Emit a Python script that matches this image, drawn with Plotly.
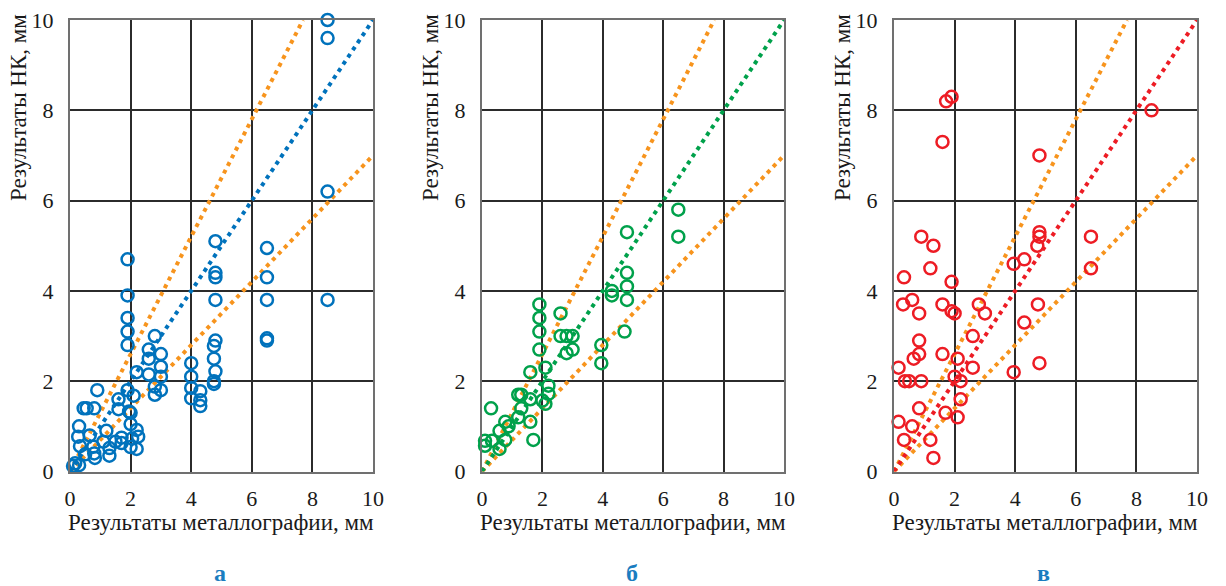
import plotly.graph_objects as go

# ---------- data ----------
a_x = [8.5, 8.5, 8.5, 8.5,
       6.5, 6.5, 6.5, 6.5, 6.5,
       4.8, 4.8, 4.8, 4.8, 4.8, 4.75, 4.75, 4.8, 4.75, 4.75,
       4.0, 4.0, 4.0, 4.0, 4.3, 4.3, 4.3,
       1.9, 1.9, 1.9, 1.9, 1.9,
       2.8, 2.6, 3.0, 2.6, 3.0, 2.6, 3.0, 2.8, 3.0, 2.8, 2.2,
       0.9, 1.9, 2.1, 1.6, 0.45, 0.55, 0.8, 1.6, 1.95, 2.0,
       2.0, 2.2, 0.3, 1.2, 0.65, 0.27, 1.7, 2.05, 2.25, 1.1, 1.5, 1.7,
       0.33, 0.77, 1.3, 2.0, 2.2, 0.5, 0.8, 1.3, 0.82, 0.17, 0.1, 0.3]
a_y = [10.0, 9.6, 6.2, 3.8,
       4.95, 4.3, 3.8, 2.95, 2.9,
       5.1, 4.4, 4.3, 3.8, 2.9, 2.78, 2.5, 2.22, 2.0, 1.94,
       2.4, 2.1, 1.85, 1.62, 1.78, 1.58, 1.45,
       4.7, 3.9, 3.4, 3.1, 2.8,
       3.0, 2.7, 2.6, 2.5, 2.32, 2.15, 2.1, 1.88, 1.8, 1.7, 2.2,
       1.8, 1.8, 1.68, 1.6, 1.4, 1.4, 1.4, 1.38, 1.33, 1.3,
       1.05, 0.92, 1.0, 0.9, 0.8, 0.77, 0.75, 0.73, 0.77, 0.66, 0.66, 0.63,
       0.56, 0.55, 0.52, 0.54, 0.5, 0.38, 0.4, 0.35, 0.3, 0.18, 0.12, 0.14]

b_x = [6.5, 6.5, 4.8, 4.8, 4.8, 4.8, 4.72, 4.3, 4.3, 3.95, 3.95,
       1.9, 1.9, 1.9, 1.9, 2.6, 2.6, 2.8, 3.0, 3.0, 2.8,
       2.1, 1.6, 2.2, 2.2, 1.2, 1.3, 1.6, 2.0, 2.1, 1.3,
       0.3, 1.2, 1.6, 0.77, 0.88, 0.58, 0.77, 0.1, 0.33, 0.1, 0.58, 1.7]
b_y = [5.8, 5.2, 5.3, 4.4, 4.1, 3.8, 3.1, 4.0, 3.9, 2.8, 2.4,
       3.7, 3.4, 3.1, 2.7, 3.5, 3.0, 3.0, 3.0, 2.7, 2.62,
       2.3, 2.2, 1.9, 1.72, 1.7, 1.7, 1.6, 1.57, 1.5, 1.4,
       1.4, 1.2, 1.1, 1.1, 1.0, 0.9, 0.7, 0.68, 0.68, 0.57, 0.5, 0.7]

c_x = [1.72, 1.9, 1.6, 4.8, 8.5, 4.8, 4.8, 4.73, 6.5, 6.5, 0.9,
       4.3, 3.95, 4.75, 4.3, 4.8, 3.95,
       1.3, 1.2, 0.33, 1.9, 0.3, 0.6, 0.83, 1.6, 1.9, 2.0, 2.8, 3.0,
       2.6, 0.83, 0.83, 0.65, 1.6, 2.1, 2.6, 0.15, 0.36, 0.5, 0.9,
       2.0, 2.2, 2.2, 0.83, 1.7, 2.1, 0.15, 0.6, 0.33, 1.2, 1.3]
c_y = [8.2, 8.3, 7.3, 7.0, 8.0, 5.3, 5.2, 5.0, 5.2, 4.5, 5.2,
       4.7, 4.6, 3.7, 3.3, 2.4, 2.2,
       5.0, 4.5, 4.3, 4.2, 3.7, 3.8, 3.5, 3.7, 3.55, 3.5, 3.7, 3.5,
       3.0, 2.9, 2.6, 2.5, 2.6, 2.5, 2.3, 2.3, 2.0, 2.0, 2.0,
       2.1, 2.0, 1.6, 1.4, 1.3, 1.2, 1.1, 1.0, 0.7, 0.7, 0.3]

# reference lines y = 1.3x, y = x, y = 0.7x
upper_x, upper_y = [0, 7.69], [0, 10]
mid_x, mid_y = [0, 10], [0, 10]
lower_x, lower_y = [0, 10], [0, 7]

x_ticks = [0, 2, 4, 6, 8, 10]
x_title = "Результаты металлографии, мм"
y_title = "Результаты НК, мм"
panel_labels = ["а", "б", "в"]

# ---------- style ----------
ORANGE = "#f7941d"
BLUE = "#0072bc"
GREEN = "#00a14b"
RED = "#ed1c24"
SERIF = "'Liberation Serif', 'DejaVu Serif', 'Times New Roman', Times, serif"

panels = [
    dict(x=a_x, y=a_y, color=BLUE, xd=[70/1226, 373/1226], title_x=221, ytitle_x=19, lab_x=220),
    dict(x=b_x, y=b_y, color=GREEN, xd=[482/1226, 784/1226], title_x=633, ytitle_x=431, lab_x=632),
    dict(x=c_x, y=c_y, color=RED, xd=[894/1226, 1197/1226], title_x=1045, ytitle_x=843, lab_x=1043),
]
YD = [1 - 471.5/586, 1 - 20/586]

fig = go.Figure()
annotations = []
for i, p in enumerate(panels):
    xa = "x" if i == 0 else f"x{i+1}"
    ya = "y" if i == 0 else f"y{i+1}"
    dotted = dict(width=4, dash="4px,4.6px")
    fig.add_trace(go.Scatter(x=upper_x, y=upper_y, mode="lines", xaxis=xa, yaxis=ya,
                             line=dict(color=ORANGE, **dotted), showlegend=False, hoverinfo="skip"))
    fig.add_trace(go.Scatter(x=lower_x, y=lower_y, mode="lines", xaxis=xa, yaxis=ya,
                             line=dict(color=ORANGE, **dotted), showlegend=False, hoverinfo="skip"))
    fig.add_trace(go.Scatter(x=mid_x, y=mid_y, mode="lines", xaxis=xa, yaxis=ya,
                             line=dict(color=p["color"], **dotted), showlegend=False, hoverinfo="skip"))
    fig.add_trace(go.Scatter(x=p["x"], y=p["y"], mode="markers", xaxis=xa, yaxis=ya,
                             cliponaxis=False, showlegend=False,
                             marker=dict(symbol="circle-open", size=12, color=p["color"],
                                         line=dict(width=2.5, color=p["color"]))))
    axcommon = dict(range=[0, 10], tickvals=x_ticks, showgrid=True, gridcolor="#2b2b2b", gridwidth=1.5,
                    zeroline=False, showline=True, mirror=True, linecolor="#707070", linewidth=2,
                    ticks="", tickfont=dict(family=SERIF, size=22, color="#1a1a1a"),
                    automargin=False, fixedrange=True)
    fig.update_layout(**{
        ("xaxis" if i == 0 else f"xaxis{i+1}"): dict(domain=p["xd"], anchor=ya, ticklabelstandoff=6, **axcommon),
        ("yaxis" if i == 0 else f"yaxis{i+1}"): dict(domain=YD, anchor=xa, ticklabelstandoff=10, **axcommon),
    })
    annotations.append(dict(text=x_title, x=p["title_x"]/1226, y=1 - 522/586, xref="paper", yref="paper",
                            showarrow=False, xanchor="center", yanchor="middle",
                            font=dict(family=SERIF, size=23, color="#1a1a1a")))
    annotations.append(dict(text=y_title, x=p["ytitle_x"]/1226, y=1 - 108/586, xref="paper", yref="paper",
                            showarrow=False, xanchor="center", yanchor="middle", textangle=-90,
                            font=dict(family=SERIF, size=23, color="#1a1a1a")))
    annotations.append(dict(text=f"<b>{panel_labels[i]}</b>", x=p["lab_x"]/1226, y=1 - 573/586,
                            xref="paper", yref="paper", showarrow=False, xanchor="center", yanchor="middle",
                            font=dict(family=SERIF, size=24, color="#1a7dc0")))

fig.update_layout(width=1226, height=586, margin=dict(l=0, r=0, t=0, b=0),
                  paper_bgcolor="white", plot_bgcolor="white", template="none",
                  annotations=annotations, showlegend=False)

fig.write_html("out.html", config={"displayModeBar": False},
               post_script="document.body.style.margin='0';document.body.style.overflow='hidden';")
